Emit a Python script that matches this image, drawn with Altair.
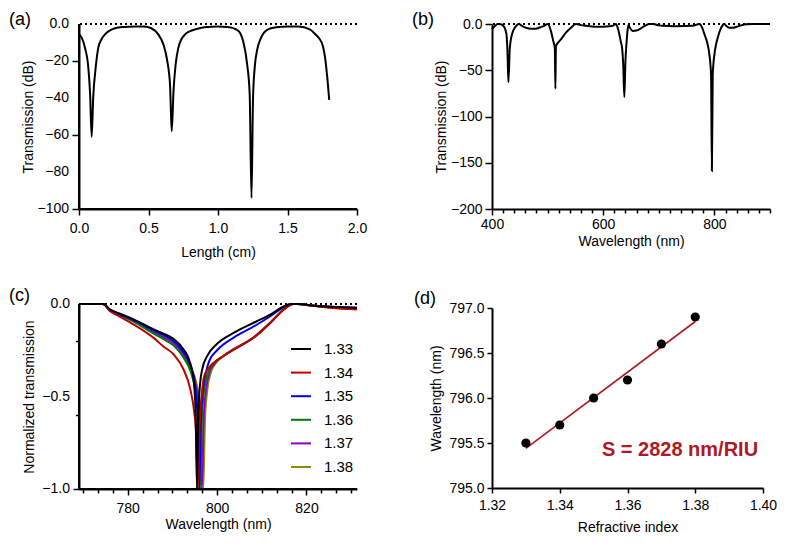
import altair as alt
import pandas as pd

FONT = "Liberation Sans"

# ---------------- Panel (a) ----------------
a_length = [0.000, 0.020, 0.043, 0.067, 0.080, 0.091, 0.102, 0.120, 0.139, 0.160, 0.187, 0.22, 0.26, 0.32,
            0.40, 0.47, 0.52, 0.57, 0.607, 0.635, 0.655, 0.667, 0.68, 0.695, 0.715, 0.735, 0.763, 0.80,
            0.835, 0.90, 1.00, 1.07, 1.13, 1.16, 1.18, 1.21, 1.228, 1.241, 1.252, 1.266, 1.28, 1.31, 1.36,
            1.42, 1.50, 1.58, 1.66, 1.70, 1.73, 1.755, 1.77, 1.785, 1.80]
a_trans = [-5.5, -7.5, -12.8, -23.6, -38, -61, -40, -23.6, -12.8, -8.5, -5.6, -3.6, -2.3, -1.6,
           -1.3, -1.4, -2.3, -5.6, -11, -20, -33, -58, -36, -22, -12.8, -8.5, -5.6, -3.8,
           -2.9, -1.7, -1.3, -1.6, -2.9, -5, -9, -22, -38, -94, -40, -22, -14.6, -7.4, -2.9,
           -1.8, -1.3, -1.4, -2.9, -5.5, -8, -12, -18, -28, -41]
a_xticks = [0, 0.5, 1.0, 1.5, 2.0]
a_yticks = [0, -20, -40, -60, -80, -100]

# ---------------- Panel (b) ----------------
b_wl = [400, 405, 410, 416, 422, 426, 428, 429.5, 432, 436, 442, 448, 455, 461, 470, 479, 487, 494, 500,
        506, 510, 513, 514, 515, 519, 524, 533, 542, 551, 560, 569, 580, 593, 605, 617, 623, 627, 629,
        632, 634, 636, 638, 640, 642, 644, 645.5, 648, 653, 660, 667, 675, 683, 690, 700, 707, 730, 761,
        773, 778, 782, 787, 791, 794, 795.5, 797, 800, 803, 806, 810, 814, 818, 822, 827, 833, 839,
        848, 857, 870, 900]
b_trans = [-5.5, -2.5, 0, -0.3, -3.2, -11, -33, -63, -26, -11, -3.2, 0, -2.5, -4, -5, -5, -3.5, -2, 0,
           -7.6, -18, -26, -70, -24, -20, -16.6, -9.3, -4, 0, -1.2, -2, -2.8, -3, -2.8, -2, 0, -6, -11,
           -20, -26, -44, -79, -40, -20, -6, -1, -4, -7.5, -7, -5, -2, 0, 0, -1.5, -2, -2.5, -2,
           0, -4, -11, -20, -33, -55, -159, -55, -33, -22, -15, -7, -2, 0, -2.5, -4, -4, -3.3,
           -1.5, -0.3, 0, 0]
b_xticks = list(range(400, 901, 20))
b_yticks = [0, -50, -100, -150, -200]

# ---------------- Panel (c) ----------------
c_series = ["1.33", "1.34", "1.35", "1.36", "1.37", "1.38"]
c_colors = ["#000000", "#C00000", "#0000F0", "#007A00", "#8C00C8", "#8C8C00"]

c_wl_133 = [769, 772, 774.5, 776, 778, 781.3, 785.8, 788, 790.3, 792.5, 794, 794.8, 795.2, 795.5, 795.8,
            796.2, 796.7, 797.8, 800, 803.8, 808.3, 812, 815, 816.5, 818, 821.7, 826, 831.5]
c_t_133 = [0, 0, 0, -0.029, -0.05, -0.083, -0.137, -0.16, -0.19, -0.246, -0.32, -0.42, -0.6, -1.0, -0.6,
           -0.43, -0.35, -0.28, -0.215, -0.155, -0.1, -0.056, -0.012, 0, 0, -0.01, -0.015, -0.02]

c_wl_134 = [769, 772, 774.5, 776, 778, 781.3, 785.8, 788, 790.3, 792.5, 794, 794.8, 795.3, 795.7, 796.1,
            796.6, 797.1, 798, 799.3, 801.5, 803.8, 808.3, 812, 815, 817, 818, 822.5, 826, 831.5]
c_t_134 = [0, 0, 0, -0.038, -0.065, -0.11, -0.183, -0.23, -0.273, -0.354, -0.46, -0.57, -0.7, -1.0, -0.65,
           -0.48, -0.39, -0.35, -0.316, -0.28, -0.246, -0.18, -0.1, -0.03, 0, 0, -0.012, -0.022, -0.03]

c_wl_135 = [769, 772, 774.5, 776, 778, 781.3, 785.8, 788, 790.3, 792.5, 794, 795, 795.6, 796.0, 796.4,
            797, 797.5, 798.2, 800, 803.8, 808.3, 812, 815, 816.5, 818, 822, 826, 831.5]
c_t_135 = [0, 0, 0, -0.031, -0.053, -0.087, -0.143, -0.167, -0.2, -0.26, -0.33, -0.43, -0.6, -1.0, -0.6,
           -0.43, -0.37, -0.31, -0.25, -0.18, -0.12, -0.065, -0.015, 0, 0, -0.01, -0.016, -0.02]

c_wl_136 = [769, 772, 774.5, 776, 778, 781.3, 785.8, 788, 790.3, 792.5, 794, 795, 795.8, 796.2, 796.6,
            797.2, 798, 799.3, 801.5, 803.8, 808.3, 812, 815, 817, 818, 822, 826, 831.5]
c_t_136 = [0, 0, 0, -0.034, -0.058, -0.095, -0.16, -0.19, -0.225, -0.29, -0.36, -0.45, -0.6, -1.0, -0.62,
           -0.45, -0.37, -0.32, -0.28, -0.245, -0.18, -0.1, -0.028, 0, 0, -0.011, -0.02, -0.027]

c_wl_137 = [769, 772, 774.5, 776, 778, 781.3, 785.8, 788, 790.3, 792.5, 794, 795.2, 796.1, 796.6, 797.0,
            797.6, 798.3, 799.5, 801.5, 803.8, 808.3, 812, 815, 817, 818, 822, 826, 831.5]
c_t_137 = [0, 0, 0, -0.032, -0.055, -0.09, -0.152, -0.18, -0.213, -0.275, -0.345, -0.43, -0.6, -1.0, -0.62,
           -0.45, -0.37, -0.32, -0.28, -0.243, -0.178, -0.098, -0.027, 0, 0, -0.011, -0.019, -0.026]

c_wl_138 = [769, 772, 774.5, 776, 778, 781.3, 785.8, 788, 790.3, 792.5, 794, 795.4, 796.4, 796.9, 797.3,
            797.9, 798.6, 799.7, 801.5, 803.8, 808.3, 812, 815, 817, 818, 822, 826, 831.5]
c_t_138 = [0, 0, 0, -0.031, -0.054, -0.088, -0.148, -0.175, -0.207, -0.268, -0.34, -0.43, -0.6, -1.0, -0.62,
           -0.45, -0.37, -0.32, -0.28, -0.243, -0.178, -0.098, -0.027, 0, 0, -0.011, -0.019, -0.026]

c_xticks = [770, 773.333, 776.667, 780, 783.333, 786.667, 790, 793.333, 796.667, 800, 803.333, 806.667,
            810, 813.333, 816.667, 820, 823.333, 826.667, 830]
c_yticks = [0, -0.05, -0.1, -0.15, -0.2, -0.25, -0.3, -0.35, -0.4, -0.45, -0.5, -0.55, -0.6, -0.65, -0.7,
            -0.75, -0.8, -0.85, -0.9, -0.95, -1.0]
c_ylabels = [0, -0.5, -1.0]

# ---------------- Panel (d) ----------------
d_n = [1.33, 1.34, 1.35, 1.36, 1.37, 1.38]
d_wl = [795.5, 795.7, 796.0, 796.2, 796.6, 796.9]
fit_n = [1.33, 1.38]
fit_wl = [795.44, 796.85]
ann_text = ["S = 2828 nm/RIU"]
ann_n = [1.3755]
ann_wl = [795.42]
d_xticks = [1.32, 1.34, 1.36, 1.38, 1.40]
d_yticks = [795.0, 795.5, 796.0, 796.5, 797.0]

panel_labels = ["(a)", "(b)", "(c)", "(d)"]

FIT_RED = "#B0171F"


def axis(**kw):
    base = dict(domainColor="black", domainWidth=2, tickColor="black", tickWidth=1.5, tickSize=6,
                labelFont=FONT, labelFontSize=14, labelColor="black", labelPadding=3,
                titleFont=FONT, titleFontSize=14, titleFontWeight="normal", titleColor="black",
                grid=False, labelOverlap=False, labelFlush=False, titleBaseline="middle",
                titleAlign="center")
    base.update(kw)
    return alt.Axis(**base)


def zero_rule():
    return alt.Chart(pd.DataFrame({"y": [0]})).mark_rule(
        color="black", strokeDash=[2, 3], strokeWidth=1.8).encode(y="y:Q")


def panel_label(txt, dx, dy):
    return alt.Chart(pd.DataFrame({"t": [txt]})).mark_text(
        align="left", baseline="middle", fontSize=18, font=FONT, color="black"
    ).encode(x=alt.value(dx), y=alt.value(dy), text="t:N")


def frame_lines(w, h):
    base = alt.Chart(pd.DataFrame({"k": [0]}))
    left = base.mark_rule(color="black", strokeWidth=2).encode(
        x=alt.value(0), y=alt.value(0), y2=alt.value(h))
    bottom = base.mark_rule(color="black", strokeWidth=2).encode(
        x=alt.value(-1), x2=alt.value(w), y=alt.value(h))
    return [left, bottom]


def y_labels(values, expr, dx):
    # y tick labels written as text through the panel's own y scale
    return alt.Chart(pd.DataFrame({"y": values})).transform_calculate(lab=expr).mark_text(
        align="right", baseline="middle", fontSize=14, font=FONT, color="black"
    ).encode(x=alt.value(dx), y="y:Q", text="lab:N")


W, H = 278, 185

# ----- (a)
df_a = pd.DataFrame({"x": a_length, "y": a_trans})
xa = alt.X("x:Q", scale=alt.Scale(domain=[0, 2], nice=False, zero=False),
           axis=axis(values=a_xticks, format=".1f", title="Length (cm)", titleX=W / 2, titleY=43,
                     labelPadding=6))
ya = alt.Y("y:Q", scale=alt.Scale(domain=[-100, 0], nice=False),
           axis=axis(values=a_yticks, tickSize=7, labels=False,
                     title="Transmission (dB)", titleX=-51, titleY=H / 2))
line_a = alt.Chart(df_a).mark_line(color="black", strokeWidth=2, interpolate="monotone").encode(x=xa, y=ya)
lab_a = y_labels(a_yticks, "datum.y == 0 ? '0.0' : replace(format(datum.y, 'd'), '-', '\u2212')", -10)
chart_a = alt.layer(zero_rule(), line_a, *frame_lines(W, H), lab_a,
                    panel_label(panel_labels[0], -70, -4)).properties(width=W, height=H)

# ----- (b)
df_b = pd.DataFrame({"x": b_wl, "y": b_trans})
xb = alt.X("x:Q", scale=alt.Scale(domain=[400, 900], nice=False, zero=False),
           axis=axis(values=b_xticks,
                     labelExpr="datum.value % 200 == 0 ? format(datum.value, 'd') : ''",
                     tickSize={"condition": {"test": "datum.value % 200 == 0", "value": 6}, "value": 4},
                     title="Wavelength (nm)", titleX=W / 2, titleY=32, labelPadding=2))
yb = alt.Y("y:Q", scale=alt.Scale(domain=[-200, 0], nice=False),
           axis=axis(values=b_yticks, tickSize=7,
                     labelExpr="datum.value == 0 ? '0.0' : replace(format(datum.value, 'd'), '-', '\u2212')",
                     title="Transmission (dB)", titleX=-51, titleY=H / 2))
line_b = alt.Chart(df_b).mark_line(color="black", strokeWidth=2, interpolate="monotone").encode(x=xb, y=yb)
chart_b = alt.layer(zero_rule(), line_b, panel_label(panel_labels[1], -80, -4)).properties(width=W, height=H)

# ----- (c)
rows = []
for s, wl, t in [("1.33", c_wl_133, c_t_133), ("1.34", c_wl_134, c_t_134), ("1.35", c_wl_135, c_t_135),
                 ("1.36", c_wl_136, c_t_136), ("1.37", c_wl_137, c_t_137), ("1.38", c_wl_138, c_t_138)]:
    for w_, v_ in zip(wl, t):
        rows.append({"x": w_, "y": v_, "n": s})
df_c = pd.DataFrame(rows)

xc = alt.X("x:Q", scale=alt.Scale(domain=[769.1, 831.3], nice=False, zero=False, clamp=True),
           axis=axis(values=c_xticks,
                     labelExpr="abs(datum.value % 20) < 0.01 ? format(datum.value, 'd') : ''",
                     tickSize={"condition": {"test": "abs(datum.value % 20) < 0.01", "value": 6}, "value": 4},
                     title="Wavelength (nm)", titleX=W / 2, titleY=35, labelPadding=6))
yc = alt.Y("y:Q", scale=alt.Scale(domain=[-1, 0], nice=False, clamp=True),
           axis=axis(values=c_yticks, labels=False,
                     tickSize={"condition": {"test": "abs(datum.value * 2 - round(datum.value * 2)) < 0.001",
                                             "value": 6}, "value": 3.5},
                     title="Normalized transmission", titleX=-50, titleY=H / 2))
legend_c = alt.Legend(orient="none", legendX=211, legendY=314, title=None, symbolType="stroke",
                      symbolSize=400, symbolStrokeWidth=2, labelFontSize=15, labelFont=FONT,
                      labelColor="black", labelOffset=12, rowPadding=4.6, padding=0)
color_c = alt.Color("n:N", scale=alt.Scale(domain=c_series, range=c_colors), legend=legend_c)
c_layers = [zero_rule()]
for s in reversed(c_series):
    c_layers.append(
        alt.Chart(df_c).transform_filter(alt.datum.n == s)
        .mark_line(strokeWidth=2, interpolate="monotone")
        .encode(x=xc, y=yc, color=color_c)
    )
c_layers += frame_lines(W, H)
c_layers.append(y_labels(c_ylabels, "format(datum.y, '.1f')", -9))
c_layers.append(panel_label(panel_labels[2], -70, -8))
chart_c = alt.layer(*c_layers).properties(width=W, height=H)

# ----- (d)
WD, HD = 271, 180
df_d = pd.DataFrame({"x": d_n, "y": d_wl})
df_fit = pd.DataFrame({"x": fit_n, "y": fit_wl})
df_ann = pd.DataFrame({"x": ann_n, "y": ann_wl, "t": ann_text})
xd = alt.X("x:Q", scale=alt.Scale(domain=[1.32, 1.40], nice=False, zero=False),
           axis=axis(values=d_xticks, format=".2f", tickSize=5, title="Refractive index",
                     titleX=WD / 2, titleY=39, labelPadding=5))
yd = alt.Y("y:Q", scale=alt.Scale(domain=[795, 797], nice=False, zero=False),
           axis=axis(values=d_yticks, format=".1f", tickSize=5, title="Wavelength (nm)",
                     titleX=-56, titleY=HD / 2))
fit_d = alt.Chart(df_fit).mark_line(color=FIT_RED, strokeWidth=1.6).encode(x=xd, y=yd)
pts_d = alt.Chart(df_d).mark_circle(size=85, color="black", opacity=1).encode(x="x:Q", y="y:Q")
ann_d = alt.Chart(df_ann).mark_text(font=FONT, fontSize=20, fontWeight="bold", color=FIT_RED,
                                    align="center", baseline="middle").encode(x="x:Q", y="y:Q", text="t:N")
chart_d = alt.layer(fit_d, pts_d, ann_d, panel_label(panel_labels[3], -78, -9)).properties(width=WD, height=HD)

left_col = alt.vconcat(chart_a, chart_c, spacing=28)
right_col = alt.vconcat(chart_b, chart_d, spacing=42)

chart = alt.hconcat(left_col, right_col, spacing=45).properties(
    padding={"left": 1, "top": 3, "right": 2, "bottom": 2}
).configure_view(stroke=None).configure_axis(
    domainColor="black", domainWidth=2, tickColor="black", labelColor="black", titleColor="black",
    labelOverlap=False, labelFont=FONT, titleFont=FONT, grid=False
)

chart.save("out.html", embed_options={"renderer": "svg", "actions": False})
